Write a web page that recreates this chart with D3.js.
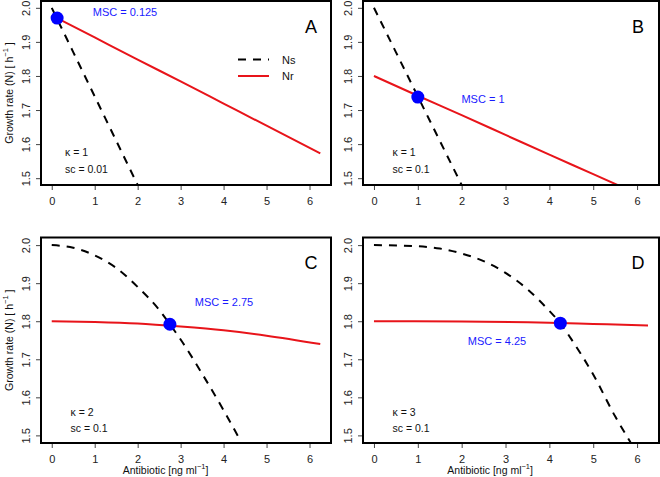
<!DOCTYPE html>
<html><head><meta charset="utf-8">
<script src="https://cdn.jsdelivr.net/npm/d3@7"></script>
<style>body{margin:0;background:#fff}svg{display:block}text{font-family:"Liberation Sans",Arial,sans-serif}</style>
</head><body>
<script>
// ---- data ----
const xTicks = [0, 1, 2, 3, 4, 5, 6];
const yTicks = [1.5, 1.6, 1.7, 1.8, 1.9, 2.0];
const panelLetters = ["A", "B", "C", "D"];
const kappaValues = [1, 1, 2, 3];
const scValues = [0.01, 0.1, 0.1, 0.1];
const mscValues = [0.125, 1, 2.75, 4.25];
const mscGrowth = [1.97, 1.738, 1.792, 1.795];
const seriesNames = ["Ns", "Nr"];

// Ns (dashed) per panel
const nsX_A = [0, 0.5, 1, 1.5, 2, 2.1];
const nsY_A = [2.0, 1.87, 1.74, 1.61, 1.48, 1.454];
const nsX_B = [0, 0.5, 1, 1.5, 2, 2.1];
const nsY_B = [2.0, 1.87, 1.74, 1.61, 1.48, 1.454];
const nsX_C = [0, 0.5, 1, 1.5, 2, 2.5, 2.75, 3, 3.5, 4, 4.35];
const nsY_C = [2.0, 1.993, 1.973, 1.94, 1.89, 1.83, 1.792, 1.752, 1.662, 1.566, 1.495];
const nsX_D = [0, 1, 1.5, 2, 2.5, 3, 3.5, 4, 4.25, 4.5, 5, 5.5, 5.85];
const nsY_D = [2.0, 1.997, 1.991, 1.978, 1.958, 1.927, 1.884, 1.827, 1.795, 1.753, 1.66, 1.55, 1.482];

// Nr (red) per panel
const nrX_A = [0, 1, 2, 3, 4, 5, 6.25];
const nrY_A = [1.978, 1.913, 1.848, 1.784, 1.719, 1.654, 1.573];
const nrX_B = [0, 1, 2, 3, 4, 5, 6.25];
const nrY_B = [1.80, 1.742, 1.685, 1.627, 1.569, 1.512, 1.44];
const nrX_C = [0, 1, 2, 3, 4, 5, 6.25];
const nrY_C = [1.80, 1.798, 1.794, 1.786, 1.776, 1.762, 1.74];
const nrX_D = [0, 2, 4, 5, 6.25];
const nrY_D = [1.80, 1.7995, 1.796, 1.793, 1.789];

const nsData = [[nsX_A, nsY_A], [nsX_B, nsY_B], [nsX_C, nsY_C], [nsX_D, nsY_D]];
const nrData = [[nrX_A, nrY_A], [nrX_B, nrY_B], [nrX_C, nrY_C], [nrX_D, nrY_D]];

// ---- layout ----
const W = 660, H = 477;
const boxes = [
  {l: 41, r: 331, t: 1, b: 185},
  {l: 363, r: 659, t: 1, b: 185},
  {l: 41, r: 331, t: 237.5, b: 443},
  {l: 363, r: 659, t: 237.5, b: 443}
];
const letterPos = [[311, 33], [638, 33], [311, 269], [638, 269]];
const mscPos = [[125, 12], [483, 98.5], [224, 302], [497, 340.5]];
const kappaPos = [[65, 152], [392.5, 152], [70.5, 411.5], [392.5, 411.5]];

const svg = d3.select("body").append("svg").attr("width", W).attr("height", H);
const FS = 11;

boxes.forEach((bx, i) => {
  const x = d3.scaleLinear().domain([-0.25, 6.5]).range([bx.l, bx.r]);
  const y = d3.scaleLinear().domain([1.48, 2.02]).range([bx.b, bx.t]);
  const g = svg.append("g");
  const cid = "clip" + i;
  svg.append("clipPath").attr("id", cid).append("rect")
    .attr("x", bx.l).attr("y", bx.t).attr("width", bx.r - bx.l).attr("height", bx.b - bx.t);

  // x axis
  const xa = g.append("g").attr("transform", `translate(0,${bx.b})`)
    .call(d3.axisBottom(x).tickValues(xTicks).tickSize(5).tickSizeOuter(0).tickPadding(3).tickFormat(d3.format("d")));
  xa.select(".domain").remove();
  xa.selectAll("line").attr("stroke", "#444");
  xa.selectAll("text").attr("font-size", FS).attr("fill", "#222").attr("dy", "1.05em");

  // y axis (rotated labels)
  const ya = g.append("g").attr("transform", `translate(${bx.l},0)`)
    .call(d3.axisLeft(y).tickValues(yTicks).tickSize(5).tickSizeOuter(0).tickFormat(d3.format(".1f")));
  ya.select(".domain").remove();
  ya.selectAll("line").attr("stroke", "#444");
  ya.selectAll("text").attr("font-size", FS).attr("fill", "#222")
    .attr("x", null).attr("dy", null)
    .attr("text-anchor", "middle").attr("dominant-baseline", "central")
    .attr("transform", "translate(-15,0) rotate(-90)");

  const pg = g.append("g").attr("clip-path", `url(#${cid})`);
  const line = d3.line().x(d => x(d[0])).y(d => y(d[1])).curve(d3.curveMonotoneX);
  const ns = d3.zip(nsData[i][0], nsData[i][1]);
  const nr = d3.zip(nrData[i][0], nrData[i][1]);
  pg.append("path").attr("d", line(nr)).attr("fill", "none").attr("stroke", "#e8141a").attr("stroke-width", 2);
  pg.append("path").attr("d", line(ns)).attr("fill", "none").attr("stroke", "#000").attr("stroke-width", 2).attr("stroke-dasharray", "8,7");
  pg.append("circle").attr("cx", x(mscValues[i])).attr("cy", y(mscGrowth[i])).attr("r", 6.5).attr("fill", "#0000ff");

  // box
  g.append("rect").attr("x", bx.l).attr("y", bx.t).attr("width", bx.r - bx.l).attr("height", bx.b - bx.t)
    .attr("fill", "none").attr("stroke", "#000").attr("stroke-width", 2);

  // texts
  g.append("text").attr("x", letterPos[i][0]).attr("y", letterPos[i][1]).attr("text-anchor", "middle")
    .attr("font-size", 18).attr("fill", "#000").text(panelLetters[i]);
  g.append("text").attr("x", mscPos[i][0]).attr("y", mscPos[i][1]).attr("text-anchor", "middle")
    .attr("dominant-baseline", "central").attr("font-size", FS).attr("fill", "#1a1aff").text("MSC = " + mscValues[i]);
  g.append("text").attr("x", kappaPos[i][0]).attr("y", kappaPos[i][1]).attr("dominant-baseline", "central")
    .attr("font-size", 10.5).attr("fill", "#111").text("κ = " + kappaValues[i]);
  g.append("text").attr("x", kappaPos[i][0]).attr("y", kappaPos[i][1] + 16.5).attr("dominant-baseline", "central")
    .attr("font-size", 10.5).attr("fill", "#111").text("sc = " + scValues[i]);

  // y title (left panels)
  if (i % 2 === 0) {
    const cy = (bx.t + bx.b) / 2;
    const t = g.append("text").attr("transform", `translate(9,${cy}) rotate(-90)`)
      .attr("text-anchor", "middle").attr("dominant-baseline", "central").attr("font-size", 10.5).attr("fill", "#111");
    t.append("tspan").text("Growth rate (N) [ h");
    t.append("tspan").attr("font-size", 7.5).attr("dy", -4).text("−1");
    t.append("tspan").attr("dy", 4).text(" ]");
  }
  // x title (bottom panels)
  if (i >= 2) {
    const cx = x(2.65);
    const t = g.append("text").attr("x", cx).attr("y", 470).attr("text-anchor", "middle")
      .attr("dominant-baseline", "central").attr("font-size", 10.5).attr("fill", "#111");
    t.append("tspan").text("Antibiotic [ng ml");
    t.append("tspan").attr("font-size", 7.5).attr("dy", -4).text("−1");
    t.append("tspan").attr("dy", 4).text("]");
  }

  // legend in panel A
  if (i === 0) {
    const lg = g.append("g");
    lg.append("line").attr("x1", 238).attr("x2", 269).attr("y1", 59.5).attr("y2", 59.5)
      .attr("stroke", "#000").attr("stroke-width", 2).attr("stroke-dasharray", "8,7");
    lg.append("line").attr("x1", 238).attr("x2", 269).attr("y1", 76).attr("y2", 76)
      .attr("stroke", "#e8141a").attr("stroke-width", 2);
    lg.append("text").attr("x", 282).attr("y", 59.5).attr("dominant-baseline", "central").attr("font-size", FS).attr("fill", "#111").text(seriesNames[0]);
    lg.append("text").attr("x", 282).attr("y", 76).attr("dominant-baseline", "central").attr("font-size", FS).attr("fill", "#111").text(seriesNames[1]);
  }
});
</script>
</body></html>
